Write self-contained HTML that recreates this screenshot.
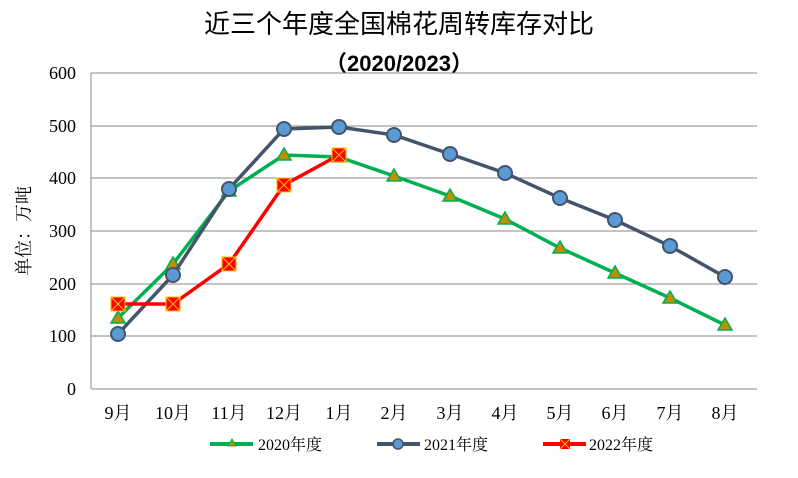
<!DOCTYPE html>
<html><head><meta charset="utf-8"><style>body{margin:0;background:#fff}</style></head><body>
<svg width="798" height="473" xmlns="http://www.w3.org/2000/svg" font-family="Liberation Serif, Noto Serif CJK SC, serif">
<text x="399" y="33" text-anchor="middle" font-size="26" font-family="Liberation Sans, Noto Sans CJK SC, sans-serif" fill="#000">近三个年度全国棉花周转库存对比</text>
<text x="399" y="71" text-anchor="middle" font-size="22" font-weight="bold" font-family="Liberation Sans, Noto Sans CJK SC, sans-serif" fill="#000">（2020/2023）</text>
<g stroke="#888" stroke-width="1">
<line x1="91" y1="73" x2="757" y2="73"/><line x1="91" y1="126" x2="757" y2="126"/><line x1="91" y1="178" x2="757" y2="178"/><line x1="91" y1="231" x2="757" y2="231"/><line x1="91" y1="284" x2="757" y2="284"/><line x1="91" y1="336" x2="757" y2="336"/><line x1="91" y1="389" x2="757" y2="389"/><line x1="91" y1="73" x2="91" y2="389"/>
</g>
<g font-size="18" text-anchor="end" fill="#000">
<text x="76" y="79">600</text><text x="76" y="132">500</text><text x="76" y="184">400</text><text x="76" y="237">300</text><text x="76" y="290">200</text><text x="76" y="342">100</text><text x="76" y="395">0</text>
</g>
<text transform="translate(30,231) rotate(-90)" text-anchor="middle" font-size="18" fill="#000">单位：万吨</text>
<g font-size="18" text-anchor="middle" fill="#000">
<text x="118" y="419">9月</text><text x="173" y="419">10月</text><text x="229" y="419">11月</text><text x="284" y="419">12月</text><text x="339" y="419">1月</text><text x="394" y="419">2月</text><text x="450" y="419">3月</text><text x="505" y="419">4月</text><text x="560" y="419">5月</text><text x="615" y="419">6月</text><text x="670" y="419">7月</text><text x="725" y="419">8月</text>
</g>
<polyline fill="none" stroke="#00b050" stroke-width="3.5" points="118,318 173,264 229,191 284,155 339,157 394,176 450,196 505,219 560,248 615,273 670,298 725,325"/>
<g fill="#bf8f00" stroke="#00b050" stroke-width="1.5">
<polygon points="118,311 125,323 111,323"/><polygon points="173,257 180,269 166,269"/><polygon points="229,184 236,196 222,196"/><polygon points="284,148 291,160 277,160"/><polygon points="339,150 346,162 332,162"/><polygon points="394,169 401,181 387,181"/><polygon points="450,189 457,201 443,201"/><polygon points="505,212 512,224 498,224"/><polygon points="560,241 567,253 553,253"/><polygon points="615,266 622,278 608,278"/><polygon points="670,291 677,303 663,303"/><polygon points="725,318 732,330 718,330"/>
</g>
<polyline fill="none" stroke="#44546a" stroke-width="3.5" points="118,334 173,275 229,189 284,129 339,127 394,135 450,154 505,173 560,198 615,220 670,246 725,277"/>
<g fill="#5b9bd5" stroke="#44546a" stroke-width="2">
<circle cx="118" cy="334" r="7"/><circle cx="173" cy="275" r="7"/><circle cx="229" cy="189" r="7"/><circle cx="284" cy="129" r="7"/><circle cx="339" cy="127" r="7"/><circle cx="394" cy="135" r="7"/><circle cx="450" cy="154" r="7"/><circle cx="505" cy="173" r="7"/><circle cx="560" cy="198" r="7"/><circle cx="615" cy="220" r="7"/><circle cx="670" cy="246" r="7"/><circle cx="725" cy="277" r="7"/>
</g>
<polyline fill="none" stroke="#ff0000" stroke-width="3.5" points="118,304 173,304 229,264 284,185 339,155"/>
<g fill="#ff0000" stroke="#ffc000" stroke-width="1">
<rect x="111" y="297" width="14" height="14"/><rect x="166" y="297" width="14" height="14"/><rect x="222" y="257" width="14" height="14"/><rect x="277" y="178" width="14" height="14"/><rect x="332" y="148" width="14" height="14"/>
<path d="M111,297l14,14m0,-14l-14,14M166,297l14,14m0,-14l-14,14M222,257l14,14m0,-14l-14,14M277,178l14,14m0,-14l-14,14M332,148l14,14m0,-14l-14,14"/>
</g>
<g font-size="16" fill="#000">
<line x1="210" y1="444" x2="253" y2="444" stroke="#00b050" stroke-width="4"/><polygon points="232,439 236,446 228,446" fill="#bf8f00" stroke="#00b050"/>
<text x="258" y="450">2020年度</text>
<line x1="377" y1="444" x2="420" y2="444" stroke="#44546a" stroke-width="4"/><circle cx="398" cy="444" r="5" fill="#5b9bd5" stroke="#44546a" stroke-width="1.5"/>
<text x="424" y="450">2021年度</text>
<line x1="543" y1="444" x2="586" y2="444" stroke="#ff0000" stroke-width="4"/><rect x="560" y="439" width="10" height="10" fill="#ff0000"/><path d="M560,439l10,10m0,-10l-10,10" stroke="#ffc000"/>
<text x="589" y="450">2022年度</text>
</g>
</svg>
</body></html>
